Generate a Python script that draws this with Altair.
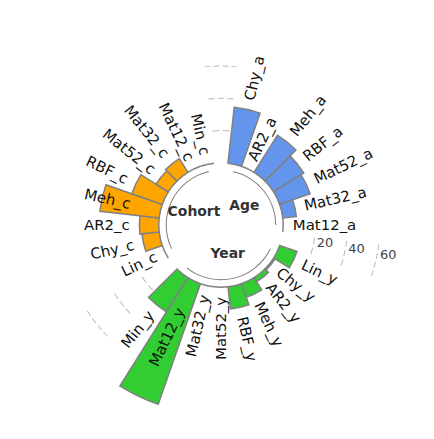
import math
import altair as alt
import pandas as pd

# ---------------- data ----------------
groups = ["Age", "Year", "Cohort"]
group_colors = ["#6495ED", "#32CD32", "#FFA500"]

age_labels = ["Chy_a", "AR2_a", "Meh_a", "RBF_a", "Mat52_a", "Mat32_a", "Mat12_a"]
age_values = [34.9, 0, 27.2, 22.0, 20.0, 8.5, 0]

year_labels = ["Lin_y", "Chy_y", "AR2_y", "Meh_y", "RBF_y", "Mat52_y", "Mat32_y", "Mat12_y", "Min_y"]
year_values = [11.4, 1.0, 3.0, 9.0, 13.9, 0, 0, 79.3, 25.0]

cohort_labels = ["Lin_c", "Chy_c", "AR2_c", "Meh_c", "RBF_c", "Mat52_c", "Mat32_c", "Mat12_c", "Min_c"]
cohort_values = [0, 10.8, 12.0, 37.0, 20.0, 9.0, 10.0, 0, 0]

ref_levels = [20, 40, 60]
ref_dash_counts = [2, 3, 4]

# ---------------- layout tables (built from the lists) ----------------
PAD = 1
bar_rows, gap_slots, grp_rows = [], [], []
slot = 0
for g, labs, vals in zip(groups, [age_labels, year_labels, cohort_labels],
                         [age_values, year_values, cohort_values]):
    gap_slots.append(slot)
    slot += PAD
    first = slot
    for lab, v in zip(labs, vals):
        bar_rows.append(dict(group=g, label=lab, value=v, slot=slot))
        slot += 1
    grp_rows.append(dict(group=g, first=first, last=slot - 1))
N = slot

bars_df = pd.DataFrame(bar_rows)
bars_df["t1"] = bars_df["slot"] - 0.5
bars_df["t2"] = bars_df["slot"] + 0.5
bars_df["base"] = 0.0
bars_df["deg"] = bars_df["slot"] * 360.0 / N
bars_df["rot"] = [((d - 90) % 360) if d < 180 else ((d + 90) % 360) for d in bars_df["deg"]]
bars_df["lr"] = [v + 6 if v < 36 else 19 for v in bars_df["value"]]

grp_df = pd.DataFrame(grp_rows)
grp_df["mid"] = (grp_df["first"] + grp_df["last"]) / 2
grp_df["r"] = -20.0
grp_df["e1"] = grp_df["first"]
grp_df["e2"] = grp_df["last"]
grp_df["ri1"] = -4.9
grp_df["ri2"] = -4.3

dash_rows = []
for gs in gap_slots:
    for lvl, n in zip(ref_levels, ref_dash_counts):
        for i in range(n):
            s = gs - 0.5 + (i + 0.175) / n
            dash_rows.append(dict(t1=s, t2=s + 0.65 / n, r1=lvl - 0.3, r2=lvl + 0.3))
dash_df = pd.DataFrame(dash_rows)

tick_df = pd.DataFrame(dict(level=ref_levels, txt=[str(v) for v in ref_levels]))
tick_df["t"] = gap_slots[1] - 0.15

# ---------------- scales ----------------
theta_scale = alt.Scale(domain=[-0.5, N - 0.5], range=[-math.pi / N, 2 * math.pi - math.pi / N])
radius_scale = alt.Scale(type="linear", domain=[-38.58, 100], range=[0, 224.5], zero=False)
CX, CY = 209, 212
FONT = "DejaVu Sans"

bars = alt.Chart(bars_df).mark_arc(stroke="#808080", strokeWidth=1.5).encode(
    theta=alt.Theta("t1:Q", scale=theta_scale, stack=None),
    theta2="t2:Q",
    radius=alt.Radius("base:Q", scale=radius_scale),
    radius2="value:Q",
    color=alt.Color("group:N", scale=alt.Scale(domain=groups, range=group_colors), legend=None),
    x=alt.value(CX), y=alt.value(CY),
)

inner = alt.Chart(grp_df).mark_arc(color="#7a7a7a").encode(
    theta=alt.Theta("e1:Q", scale=theta_scale, stack=None),
    theta2="e2:Q",
    radius=alt.Radius("ri1:Q", scale=radius_scale),
    radius2="ri2:Q",
    x=alt.value(CX), y=alt.value(CY),
)

dashes = alt.Chart(dash_df).mark_arc(color="#b8b8b8").encode(
    theta=alt.Theta("t1:Q", scale=theta_scale, stack=None),
    theta2="t2:Q",
    radius=alt.Radius("r1:Q", scale=radius_scale),
    radius2="r2:Q",
    x=alt.value(CX), y=alt.value(CY),
)

def label_layer(cond, align):
    return alt.Chart(bars_df).transform_filter(cond).mark_text(
        align=align, baseline="middle", font=FONT, fontSize=15, color="#111111"
    ).encode(
        theta=alt.Theta("slot:Q", scale=theta_scale, stack=None),
        radius=alt.Radius("lr:Q", scale=radius_scale),
        angle=alt.Angle("rot:Q", scale=None),
        text="label:N",
        x=alt.value(CX), y=alt.value(CY),
    )

lab_r = label_layer("datum.deg < 180", "left")
lab_l = label_layer("datum.deg >= 180", "right")

grp_text = alt.Chart(grp_df).mark_text(
    font=FONT, fontSize=14, fontWeight="bold", color="#333333", baseline="middle"
).encode(
    theta=alt.Theta("mid:Q", scale=theta_scale, stack=None),
    radius=alt.Radius("r:Q", scale=radius_scale),
    text="group:N",
    x=alt.value(CX), y=alt.value(CY),
)

ticks = alt.Chart(tick_df).mark_text(
    font=FONT, fontSize=13, color="#444444", align="left", baseline="middle", dx=3
).encode(
    theta=alt.Theta("t:Q", scale=theta_scale, stack=None),
    radius=alt.Radius("level:Q", scale=radius_scale),
    text="txt:N",
    x=alt.value(CX), y=alt.value(CY),
)

chart = alt.layer(dashes, inner, bars, lab_r, lab_l, grp_text, ticks).properties(
    width=410, height=410
).configure_view(strokeWidth=0)

chart.save("out.html", embed_options={"renderer": "svg", "actions": False})
